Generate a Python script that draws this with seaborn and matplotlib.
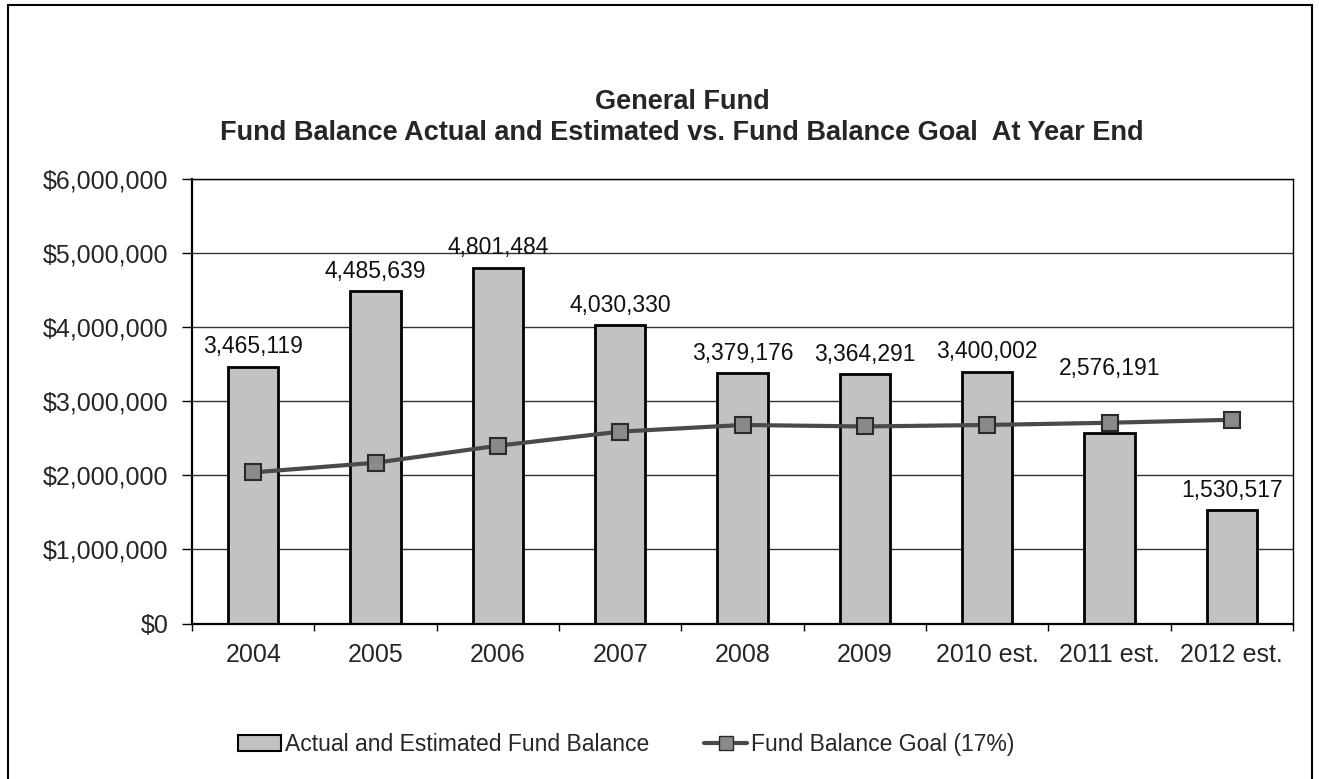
import numpy as np
import pandas as pd
import matplotlib
matplotlib.use("Agg")
import matplotlib.pyplot as plt
from matplotlib.ticker import FuncFormatter, MultipleLocator
from matplotlib.lines import Line2D
from matplotlib.patches import Patch, Rectangle
import seaborn as sns

# Year-end figures
years = ["2004", "2005", "2006", "2007", "2008", "2009",
         "2010 est.", "2011 est.", "2012 est."]
fund_balance = [3465119, 4485639, 4801484, 4030330, 3379176,
                3364291, 3400002, 2576191, 1530517]
goal_17pct = [2040000, 2170000, 2400000, 2590000, 2680000,
              2660000, 2680000, 2710000, 2750000]

df = pd.DataFrame({"year": years, "balance": fund_balance, "goal": goal_17pct})

sns.set_theme(style="white")
plt.rcParams["font.family"] = ["Liberation Sans", "DejaVu Sans"]

fig = plt.figure(figsize=(13.19, 7.79), dpi=100)
ax = fig.add_axes([0.1456, 0.1996, 0.8347, 0.5706])

bar_color = "#c2c2c2"
line_color = "#4a4a4a"

sns.barplot(data=df, x="year", y="balance", order=years, color=bar_color,
            saturation=1, width=0.41, edgecolor="black", linewidth=2,
            errorbar=None, ax=ax, zorder=2)
sns.pointplot(data=df, x="year", y="goal", order=years, color=line_color,
              markers="s", linestyles="-", linewidth=3, markersize=12,
              markeredgewidth=1.5, markeredgecolor="#2a2a2a",
              markerfacecolor="#8a8a8a", errorbar=None, ax=ax, zorder=4)

# Value labels; the 2011 label is lifted clear of the goal line
lifted = {"2011 est."}
normal_labels = ["" if y in lifted else f"{v:,}" for y, v in zip(years, fund_balance)]
lifted_labels = [f"{v:,}" if y in lifted else "" for y, v in zip(years, fund_balance)]
ax.bar_label(ax.containers[0], labels=normal_labels,
             padding=6, fontsize=16.5, color="#111111")
ax.bar_label(ax.containers[0], labels=lifted_labels,
             padding=38, fontsize=16.5, color="#111111")

ax.set_ylim(0, 6000000)
ax.set_xlim(-0.5, len(years) - 0.5)
ax.yaxis.set_major_locator(MultipleLocator(1000000))
ax.yaxis.set_major_formatter(FuncFormatter(lambda v, p: f"${int(v):,}"))
ax.yaxis.grid(True, color="#333333", linewidth=1)
ax.set_axisbelow(True)

ax.set_xticks(np.arange(-0.5, len(years), 1), minor=True)
ax.tick_params(axis="x", which="major", length=0, pad=14, labelsize=18)
ax.tick_params(axis="x", which="minor", length=5, width=1, color="black",
               direction="out", bottom=True)
ax.tick_params(axis="y", which="major", length=7, width=1, color="black",
               direction="out", left=True, pad=10, labelsize=18)
ax.set_xlabel("")
ax.set_ylabel("")

for side in ["left", "bottom"]:
    ax.spines[side].set_color("black")
    ax.spines[side].set_linewidth(1.6)
for side in ["top", "right"]:
    ax.spines[side].set_color("black")
    ax.spines[side].set_linewidth(1.0)

fig.text(0.517, 0.869, "General Fund", ha="center", va="center",
         fontsize=19.5, fontweight="bold")
fig.text(0.517, 0.829,
         "Fund Balance Actual and Estimated vs. Fund Balance Goal  At Year End",
         ha="center", va="center", fontsize=19.5, fontweight="bold")

handles = [
    Patch(facecolor=bar_color, edgecolor="black", linewidth=1.5),
    Line2D([0], [0], color=line_color, linewidth=3, marker="s",
           markersize=10, markerfacecolor="#8a8a8a", markeredgecolor="#2a2a2a"),
]
labels = ["Actual and Estimated Fund Balance", "Fund Balance Goal (17%)"]
fig.legend(handles, labels, loc="center", bbox_to_anchor=(0.4746, 0.044),
           ncol=2, frameon=False, fontsize=16.5, columnspacing=2.4,
           handlelength=1.9, handletextpad=0.15, handleheight=0.7)

fig.add_artist(Rectangle((0.006, -0.01), 0.989, 1.0036,
                         transform=fig.transFigure, fill=False,
                         edgecolor="black", linewidth=1.5))

fig.savefig("out.png", dpi=100, facecolor="white")
